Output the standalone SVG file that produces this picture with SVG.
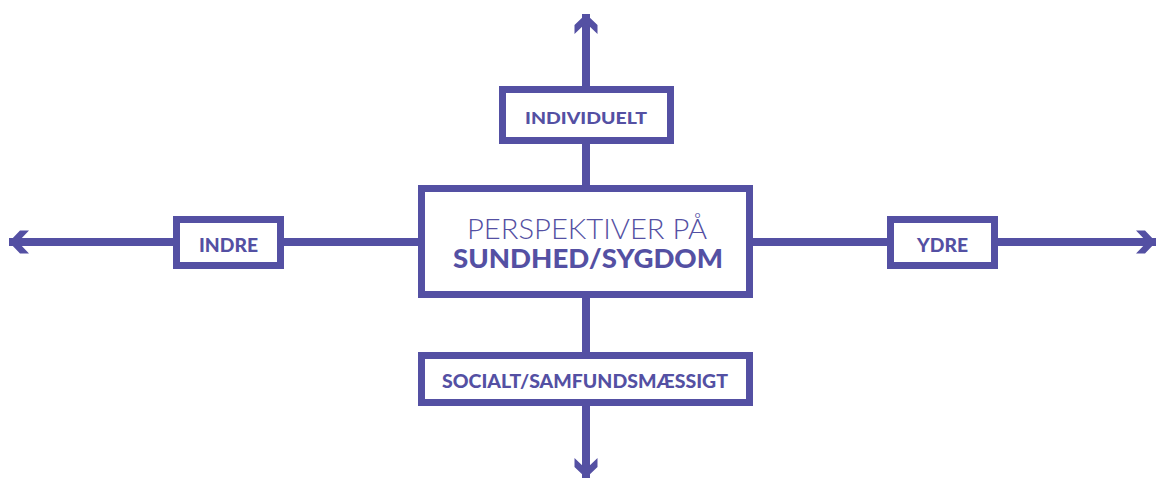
<svg xmlns="http://www.w3.org/2000/svg" width="1157" height="481" viewBox="0 0 1157 481">
<style>
.box{fill:#fff;stroke:#5450a3;stroke-width:7}
.con{stroke:#5450a3;stroke-width:8;fill:none}
.lbl{font-family:Lato,"Liberation Sans",sans-serif;font-weight:900;fill:#5450a3;text-anchor:middle}
.thin{font-family:Lato,"Liberation Sans",sans-serif;font-weight:300;fill:#5450a3;text-anchor:middle}
</style>
<defs>
<marker id="ah" markerUnits="userSpaceOnUse" viewBox="-22 -12 24 24" refX="0" refY="0" markerWidth="24" markerHeight="24" orient="auto">
<path d="M0,0 L-11,-11.5 L-20,-11.5 L-9,0 L-20,11.5 L-11,11.5 Z" fill="#5450a3"/>
</marker>
</defs>
<g id="connectors">
<line class="con" x1="586" y1="190" x2="586" y2="14" marker-end="url(#ah)"/>
<line class="con" x1="586" y1="294" x2="586" y2="478" marker-end="url(#ah)"/>
<line class="con" x1="422" y1="242" x2="9" y2="242" marker-end="url(#ah)"/>
<line class="con" x1="750" y1="242" x2="1156" y2="242" marker-end="url(#ah)"/>
</g>
<g id="center">
<rect class="box" x="421.5" y="188.5" width="328" height="106"/>
<text class="thin" x="587" y="238.5" font-size="28" textLength="240" lengthAdjust="spacingAndGlyphs">PERSPEKTIVER PÅ</text>
<text class="lbl" x="588" y="268" font-size="26" textLength="270" lengthAdjust="spacingAndGlyphs">SUNDHED/SYGDOM</text>
</g>
<g id="individuelt">
<rect class="box" x="502.5" y="89.5" width="168" height="51"/>
<text class="lbl" x="586" y="124" font-size="17.5" textLength="122" lengthAdjust="spacingAndGlyphs">INDIVIDUELT</text>
</g>
<g id="indre">
<rect class="box" x="176.5" y="219.5" width="104" height="46"/>
<text class="lbl" x="228.5" y="252" font-size="19" textLength="59" lengthAdjust="spacingAndGlyphs">INDRE</text>
</g>
<g id="ydre">
<rect class="box" x="890.5" y="219.5" width="104" height="46"/>
<text class="lbl" x="942.5" y="252" font-size="19" textLength="51" lengthAdjust="spacingAndGlyphs">YDRE</text>
</g>
<g id="socialt">
<rect class="box" x="421.5" y="355.5" width="328" height="47"/>
<text class="lbl" x="585" y="388" font-size="19" textLength="286" lengthAdjust="spacingAndGlyphs">SOCIALT/SAMFUNDSMÆSSIGT</text>
</g>
</svg>
